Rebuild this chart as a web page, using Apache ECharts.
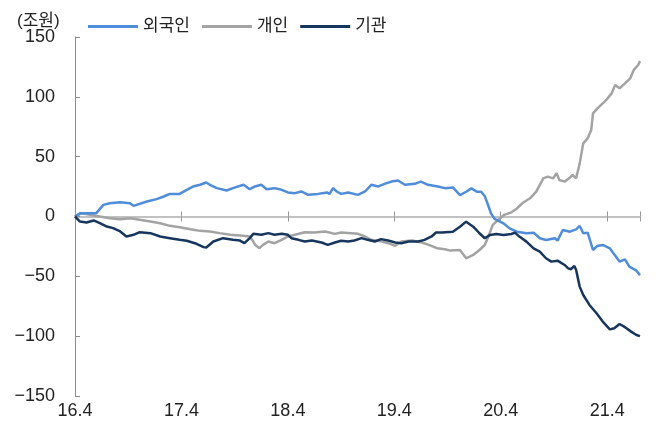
<!DOCTYPE html>
<html>
<head>
<meta charset="utf-8">
<script src="https://cdn.jsdelivr.net/npm/echarts@6/dist/echarts.min.js"></script>
<style>
html,body{margin:0;padding:0;background:#fff;}
#c{width:660px;height:425px;}
</style>
</head>
<body>
<div id="c"></div>
<script>
// x = months since 2016.4
const xTickLabels = ['16.4','17.4','18.4','19.4','20.4','21.4'];
const seriesNames = ['외국인','개인','기관'];
const yTicks = [-150,-100,-50,0,50,100,150];

const foreignM = [0,0.6,2.4,3.2,3.9,5.1,6.2,6.6,8.1,9.2,10.0,10.7,11.8,12.6,13.3,14.1,14.8,15.2,16.0,17.1,17.8,19.0,19.7,20.3,21.0,21.6,22.5,23.3,24.0,24.8,25.5,26.3,27.4,28.4,28.7,29.1,29.5,30.0,30.8,31.9,32.7,33.4,34.2,34.9,35.7,36.4,37.2,38.3,39.0,39.8,40.9,41.7,42.6,43.4,44.1,44.7,45.3,45.8,46.2,46.6,46.9,47.3,48.3,49.0,49.8,50.9,51.7,52.4,53.1,54.1,54.4,55.0,55.8,56.5,56.9,57.3,57.8,58.4,58.9,59.5,60.3,60.7,61.4,62.0,62.5,63.3,63.7];
const foreignV = [0,2.8,2.8,9.7,11.1,12.0,11.1,8.9,12.5,14.5,16.7,18.9,18.9,22.3,25.0,26.5,28.4,26.5,23.7,21.7,23.7,26.5,22.8,25.1,26.5,22.8,23.7,22.3,20.1,19.5,20.9,18.1,18.9,20.1,18.9,23.7,20.9,18.9,20.1,18.1,20.9,26.5,25.1,27.3,29.2,30.1,26.5,27.3,29.2,26.5,25.1,23.7,24.3,17.9,20.7,23.5,20.7,20.7,17,9,2.6,-2,-5.7,-9.9,-12.7,-14.0,-13.5,-18.2,-19.6,-18.2,-20.2,-11.3,-12.7,-10.7,-7.9,-14.0,-13.5,-28.0,-24.6,-23.8,-26.6,-30.8,-37.7,-35.8,-41.9,-45.3,-49];

const indivM = [0,0.75,1.7,2.8,3.9,5.1,6.2,7.3,8.5,9.6,10.7,11.8,13.0,14.1,15.2,16.3,17.5,18.6,19.7,20.1,20.3,20.8,21.2,21.8,22.5,23.3,24.0,24.8,25.9,27.0,28.2,29.3,30.0,31.2,31.9,32.7,33.4,34.6,35.3,36.1,36.8,38.0,39.1,39.9,40.8,41.7,42.3,43.4,44.1,44.9,45.6,46.2,46.6,47.1,47.7,48.4,49.2,49.8,50.5,51.3,52.0,52.8,53.3,53.9,54.3,54.6,55.2,55.7,56.1,56.5,56.9,57.3,57.8,58.2,58.4,58.9,59.5,59.9,60.5,60.9,61.4,62.0,62.6,63.0,63.5,63.7];
const indivV = [0,2.8,1.4,0,-1.4,-2.2,-1.4,-2.8,-4.2,-5.6,-7.8,-8.9,-10.6,-12.0,-12.5,-13.9,-15.3,-15.9,-16.7,-20.9,-23.7,-26.5,-23.7,-20.9,-22.3,-19.5,-16.7,-15.3,-13.1,-13.4,-12.5,-14.5,-13.4,-13.9,-14.5,-16.7,-19.5,-20.9,-22.3,-24.5,-20.9,-20.1,-21.7,-23.7,-26.5,-27.3,-28.5,-28.0,-34.9,-32.1,-28.0,-23.8,-16.9,-7.0,-2.9,1.4,3.5,6.5,11.5,15.2,20.8,31.9,33.3,31.9,36.1,30.5,29.1,31.9,34.7,31.9,44.4,61.1,65.3,72.3,86.2,90.4,94.6,97.4,102.9,109.9,107.1,111.3,115.5,122.5,126.6,130];

const instM = [0,0.56,1.3,2.1,2.8,3.6,4.3,5.1,5.8,6.6,7.3,8.5,9.6,10.7,11.8,12.6,13.7,14.5,14.8,15.6,16.7,17.8,18.6,19.1,19.7,20.1,20.3,21.0,21.8,22.5,23.3,24.0,24.4,25.2,25.9,26.7,27.8,28.5,29.3,30.0,30.8,31.5,32.3,33.0,33.8,34.5,35.3,36.1,36.8,37.6,38.7,39.4,40.2,40.7,41.4,42.6,43.4,44.1,44.9,45.6,46.2,46.8,47.5,48.3,49.2,49.6,50.1,50.9,51.7,52.4,53.1,53.7,54.4,55.2,55.6,55.9,56.3,56.5,56.9,57.3,58.0,58.8,59.5,60.3,60.8,61.4,61.9,62.7,63.3,63.7];
const instV = [0,-4.2,-5.0,-3.3,-5.6,-8.4,-9.7,-12.5,-16.7,-15.3,-13.1,-13.9,-16.7,-18.1,-19.5,-20.3,-22.8,-25.6,-25.9,-20.9,-18.1,-19.5,-20.1,-22.3,-18.1,-14.5,-14.5,-15.3,-13.9,-15.3,-14.5,-15.3,-18.1,-19.5,-20.9,-20.1,-21.7,-23.7,-21.7,-20.3,-20.9,-20.1,-18.1,-19.5,-20.9,-18.9,-20.1,-21.7,-22.3,-20.9,-20.9,-19.5,-16.7,-13.4,-13.3,-12.7,-8.5,-4.3,-8.5,-14.0,-18.2,-15.4,-14.6,-15.4,-14.6,-13.5,-16.8,-21.0,-26.6,-29.4,-34.9,-37.7,-36.9,-40.5,-43.3,-44.1,-41.3,-44.7,-58.6,-65.6,-73.9,-80.9,-87.8,-94.3,-93.4,-89.8,-92.0,-96.2,-99.0,-100];

const colors = ['#4F8CD9','#A3A3A3','#17365D'];
const pair = (m, v) => m.map((x, i) => [x, v[i]]);
const FONT = '"Liberation Sans", Arial, "Noto Sans CJK KR", sans-serif';
const XMAX = 63.7;

const chart = echarts.init(document.getElementById('c'));
chart.setOption({
  animation: false,
  textStyle: { fontFamily: FONT },
  title: {
    text: '(조원)', left: 12, top: 8,
    textStyle: { fontSize: 17, fontWeight: 'normal', color: '#222', fontFamily: FONT }
  },
  legend: {
    left: 88, top: 18, padding: 0, itemWidth: 50, itemHeight: 3, itemGap: 12,
    icon: 'rect',
    data: seriesNames,
    textStyle: { fontSize: 17, color: '#222', fontFamily: FONT }
  },
  grid: { left: 75, right: 20, top: 37, bottom: 29 },
  xAxis: [
    {
      type: 'value', min: 0, max: XMAX, interval: 12, position: 'bottom',
      axisLine: { show: false, onZero: false },
      axisTick: { show: false }, splitLine: { show: false },
      axisLabel: {
        fontSize: 18, color: '#222', margin: 6,
        showMaxLabel: false,
        formatter: v => (v % 12 === 0 ? (xTickLabels[v / 12] || '') : '')
      }
    },
    {
      type: 'value', min: 0, max: XMAX, interval: 12, position: 'bottom',
      axisLine: { show: true, onZero: true, onZeroAxisIndex: 0, lineStyle: { color: '#ADADAD', width: 1.5 } },
      axisTick: { show: true, inside: false, length: 5, lineStyle: { color: '#999', width: 1 } },
      axisLabel: { show: false }, splitLine: { show: false }
    },
    {
      type: 'value', min: 0, max: XMAX, interval: 12, position: 'bottom',
      axisLine: { show: false, onZero: true, onZeroAxisIndex: 1 },
      axisTick: { show: true, inside: true, length: 5, lineStyle: { color: '#999', width: 1 } },
      axisLabel: { show: false }, splitLine: { show: false }
    }
  ],
  yAxis: [
    {
      type: 'value', min: yTicks[0], max: yTicks[yTicks.length - 1], interval: 50,
      axisLine: { show: true, onZero: false, lineStyle: { color: '#8C8C8C', width: 1 } },
      axisTick: { show: true, inside: true, length: 5, lineStyle: { color: '#8C8C8C' } },
      splitLine: { show: false },
      axisLabel: {
        fontSize: 18, color: '#222', margin: 20,
        formatter: v => String(v).replace('-', '\u2212')
      }
    },
    {
      type: 'value', min: yTicks[0], max: yTicks[yTicks.length - 1], interval: 50, show: false,
      axisLine: { onZero: false }
    }
  ],
  series: [
    { name: seriesNames[0], type: 'line', data: pair(foreignM, foreignV), xAxisIndex: 0, yAxisIndex: 0,
      symbol: 'none', showSymbol: false, lineStyle: { width: 2.5, color: colors[0] }, itemStyle: { color: colors[0] }, z: 4 },
    { name: seriesNames[1], type: 'line', data: pair(indivM, indivV), xAxisIndex: 0, yAxisIndex: 0,
      symbol: 'none', showSymbol: false, lineStyle: { width: 2.5, color: colors[1] }, itemStyle: { color: colors[1] }, z: 3 },
    { name: seriesNames[2], type: 'line', data: pair(instM, instV), xAxisIndex: 0, yAxisIndex: 0,
      symbol: 'none', showSymbol: false, lineStyle: { width: 2.5, color: colors[2] }, itemStyle: { color: colors[2] }, z: 5 }
  ]
});
</script>
</body>
</html>
